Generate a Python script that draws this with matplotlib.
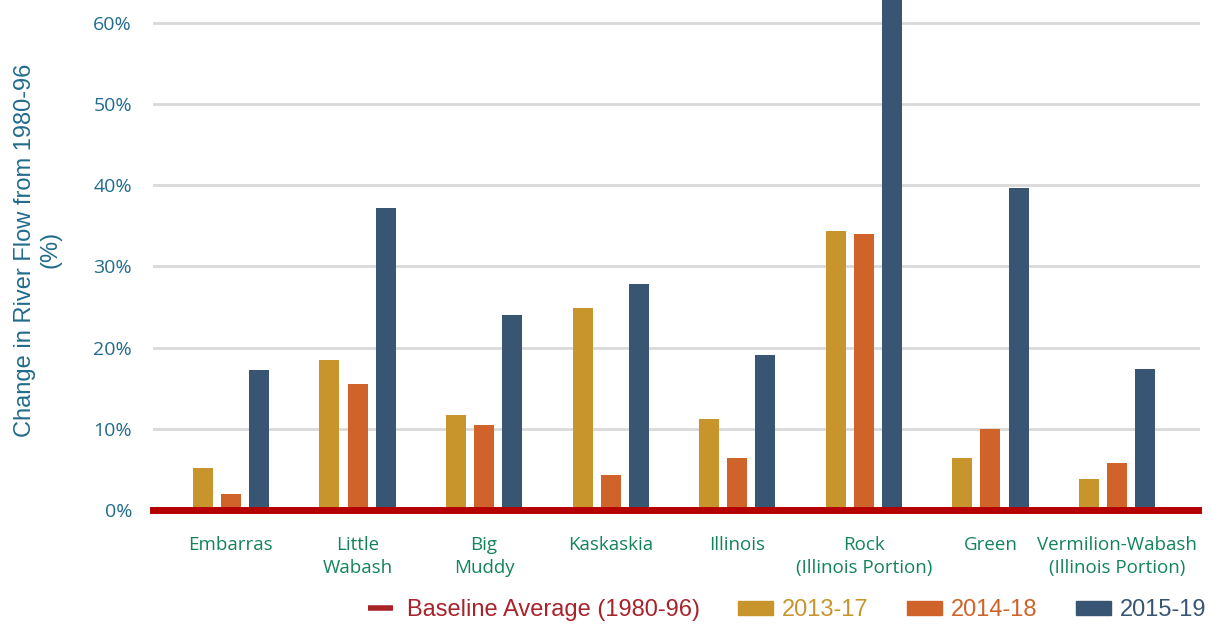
import numpy as np
import matplotlib
import matplotlib.pyplot as plt
from matplotlib.lines import Line2D
from matplotlib.patches import Patch

matplotlib.use("Agg")

rivers = ["Embarras", "Little\nWabash", "Big\nMuddy", "Kaskaskia", "Illinois",
          "Rock\n(Illinois Portion)", "Green", "Vermilion-Wabash\n(Illinois Portion)"]
periods = ["2013-17", "2014-18", "2015-19"]
change_2013_17 = [5.2, 18.5, 11.7, 24.9, 11.2, 34.3, 6.4, 3.8]
change_2014_18 = [2.0, 15.5, 10.5, 4.3, 6.4, 34.0, 10.0, 5.8]
change_2015_19 = [17.2, 37.2, 24.0, 27.8, 19.1, 64.0, 39.6, 17.4]
yticks = [0, 10, 20, 30, 40, 50, 60]

colors = ["#c8952d", "#d0632a", "#385673"]
baseline_color = "#b50000"
tick_color = "#226b8c"
label_color = "#13845a"

fig = plt.figure(figsize=(12.11, 6.27), dpi=100)
ax = fig.add_axes([0.1263, 1 - 510 / 627, 0.991 - 0.1263, 510 / 627])

x = np.arange(len(rivers))
width = 0.158
offset = 0.222
for i, (vals, c) in enumerate(zip([change_2013_17, change_2014_18, change_2015_19], colors)):
    ax.bar(x + (i - 1) * offset, vals, width, color=c, zorder=2)

# baseline average sits at 0%
ax.axhline(0, color=baseline_color, lw=5, zorder=3, clip_on=False, xmax=0.998)

ax.set_xlim(-0.616, 7.656)
ax.set_ylim(0, 62.77)
ax.set_yticks(yticks)
ax.set_yticklabels([f"{t}%" for t in yticks], color=tick_color,
                   fontsize=14, family="Open Sans")
ax.yaxis.grid(True, color="#d9d9d9", lw=2)
ax.set_axisbelow(True)
ax.tick_params(axis="y", length=0, pad=15)
ax.tick_params(axis="x", length=0, pad=19)
ax.set_xticks(x)
ax.set_xticklabels(rivers, color=label_color, fontsize=13.5, family="Open Sans",
                   linespacing=1.35)
for s in ax.spines.values():
    s.set_visible(False)

ax.set_ylabel("Change in River Flow from 1980-96\n(%)", color=tick_color,
              fontsize=17, family="Liberation Sans", linespacing=1.2)
ax.yaxis.set_label_coords(-0.087, 0.51)

handles = [Line2D([], [], color="#a8232a", marker="_", markersize=18,
                  markeredgewidth=4, lw=0)] + [Patch(color=c) for c in colors]
labels = ["Baseline Average (1980-96)"] + periods
leg = fig.legend(handles, labels, loc="center", bbox_to_anchor=(0.648, 0.027),
                 ncol=4, frameon=False, handlelength=1.45, handleheight=0.55,
                 columnspacing=1.64, handletextpad=0.4,
                 prop={"family": "Liberation Sans", "size": 17},
                 labelcolor=["#a8232a"] + colors)

fig.savefig("out.png", dpi=100)
